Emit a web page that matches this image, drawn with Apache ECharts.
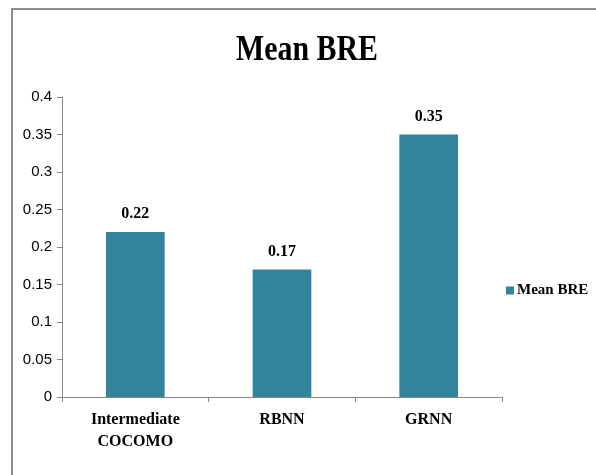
<!DOCTYPE html>
<html><head><meta charset="utf-8">
<script src="https://cdn.jsdelivr.net/npm/echarts@6/dist/echarts.min.js"></script>
<style>html,body{margin:0;padding:0;background:#fff}#c{width:596px;height:475px}</style>
</head><body><div id="c"></div>
<script>
const categories = ['Intermediate\nCOCOMO', 'RBNN', 'GRNN'];
const meanBRE = [0.22, 0.17, 0.35];
const yTicks = [0, 0.05, 0.1, 0.15, 0.2, 0.25, 0.3, 0.35, 0.4];
const titleText = 'Mean BRE';

const serif = "'Liberation Serif','Times New Roman',serif";
const narrow = "'Liberation Sans Narrow','Arial Narrow','Liberation Sans',sans-serif";
const chart = echarts.init(document.getElementById('c'), null, {renderer: 'canvas'});
chart.setOption({
  animation: false,
  backgroundColor: '#fff',
  legend: {
    data: ['Mean BRE'], left: 501, top: 278, itemWidth: 8, itemHeight: 8, itemGap: 4,
    icon: 'rect',
    textStyle: {fontFamily: serif, fontWeight: 'bold', fontSize: 15, color: '#000', padding: [0,0,0,-2]}
  },
  grid: {left: 62, right: 94, top: 97, bottom: 78},
  xAxis: {
    type: 'category', data: categories,
    axisLine: {lineStyle: {color: '#868686'}},
    axisTick: {show: true, length: 5, lineStyle: {color: '#868686'}},
    axisLabel: {fontFamily: serif, fontWeight: 'bold', fontSize: 16, color: '#000', lineHeight: 22, margin: 12}
  },
  yAxis: {
    type: 'value', min: 0, max: yTicks[yTicks.length - 1], interval: 0.05,
    axisLine: {show: true, lineStyle: {color: '#868686'}},
    axisTick: {show: true, length: 5, lineStyle: {color: '#868686'}},
    splitLine: {show: false},
    axisLabel: {fontFamily: narrow, fontSize: 15, color: '#000', margin: 10,
      formatter: v => String(parseFloat(v.toFixed(2)))}
  },
  series: [{
    name: 'Mean BRE', type: 'bar', data: meanBRE, barWidth: '40%',
    itemStyle: {color: '#31849B'},
    label: {show: true, position: 'top', distance: 10, fontFamily: serif, fontWeight: 'bold', fontSize: 16, color: '#000'}
  }],
  graphic: [
    {type: 'text', x: 307, y: 51, scaleX: 0.83,
      style: {text: titleText, textAlign: 'center', textVerticalAlign: 'middle',
        font: "bold 36px 'Liberation Serif','Times New Roman',serif", fill: '#000'}},
    {type: 'line', shape: {x1: 11, y1: 9, x2: 596, y2: 9}, style: {stroke: '#8c8c8c', lineWidth: 2}},
    {type: 'line', shape: {x1: 12, y1: 8, x2: 12, y2: 475}, style: {stroke: '#8c8c8c', lineWidth: 2}}
  ]
});
</script></body></html>
